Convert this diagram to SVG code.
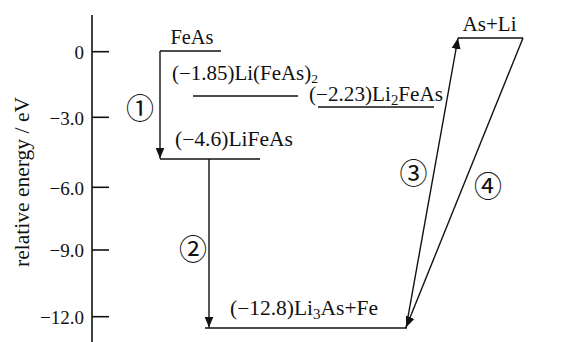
<svg xmlns="http://www.w3.org/2000/svg" width="569" height="342" viewBox="0 0 569 342">
<style>
.t{font-family:"Liberation Serif","Times New Roman",serif;font-size:20px;fill:#111}
.tk{font-family:"Liberation Serif","Times New Roman",serif;font-size:19px;fill:#111;text-anchor:end}
.c{font-family:"Noto Sans CJK SC","Noto Sans CJK JP",sans-serif;font-size:28px;fill:#111;text-anchor:middle;dominant-baseline:central}
.ln{stroke:#111;stroke-width:1.6;fill:none}
.ar{stroke:#111;stroke-width:1.4;fill:none;marker-end:url(#ah)}
</style>
<defs>
<marker id="ah" markerUnits="userSpaceOnUse" markerWidth="12" markerHeight="10" viewBox="0 0 12 10" refX="11" refY="5" orient="auto">
<path d="M0,0.5 L11,5 L0,9.5 z" fill="#111"/>
</marker>
</defs>
<g id="axis">
<line class="ln" x1="92" y1="15" x2="92" y2="342"/>
<line class="ln" x1="92" y1="51.7" x2="109" y2="51.7"/>
<line class="ln" x1="92" y1="117.3" x2="109" y2="117.3"/>
<line class="ln" x1="92" y1="187.3" x2="109" y2="187.3"/>
<line class="ln" x1="92" y1="250" x2="109" y2="250"/>
<line class="ln" x1="92" y1="316.7" x2="109" y2="316.7"/>
<text class="tk" x="84" y="59">0</text>
<text class="tk" x="84" y="124.5">−3.0</text>
<text class="tk" x="84" y="194.5">−6.0</text>
<text class="tk" x="84" y="257">−9.0</text>
<text class="tk" x="84" y="324">−12.0</text>
<text class="t" transform="translate(29,182) rotate(-90)" text-anchor="middle" textLength="170" lengthAdjust="spacingAndGlyphs">relative energy / eV</text>
</g>
<g id="FeAs">
<line class="ln" x1="160" y1="51" x2="221" y2="51"/>
<text class="t" x="170.5" y="44" textLength="43" lengthAdjust="spacingAndGlyphs">FeAs</text>
</g>
<g id="LiFeAs2">
<line class="ln" x1="193" y1="96" x2="298" y2="96"/>
<text class="t" x="172" y="80" textLength="146" lengthAdjust="spacingAndGlyphs">(−1.85)Li(FeAs)<tspan font-size="13" dy="3">2</tspan></text>
</g>
<g id="Li2FeAs">
<line class="ln" x1="318" y1="107" x2="434" y2="107"/>
<text class="t" x="309" y="101" textLength="134" lengthAdjust="spacingAndGlyphs">(−2.23)Li<tspan font-size="14" dy="4">2</tspan><tspan dy="-4">FeAs</tspan></text>
</g>
<g id="LiFeAs">
<line class="ln" x1="160" y1="159" x2="260" y2="159"/>
<text class="t" x="175" y="146" textLength="118" lengthAdjust="spacingAndGlyphs">(−4.6)LiFeAs</text>
</g>
<g id="Li3AsFe">
<line class="ln" x1="205" y1="328" x2="407" y2="328"/>
<text class="t" x="230" y="315" textLength="148" lengthAdjust="spacingAndGlyphs">(−12.8)Li<tspan font-size="14" dy="4">3</tspan><tspan dy="-4">As+Fe</tspan></text>
</g>
<g id="AsLi">
<line class="ln" x1="458" y1="38" x2="523" y2="38"/>
<text class="t" x="462.5" y="31" textLength="54" lengthAdjust="spacingAndGlyphs">As+Li</text>
</g>
<g id="connectors">
<line class="ar" x1="160" y1="51" x2="160" y2="158.5"/>
<line class="ar" x1="209" y1="159" x2="209" y2="327.5"/>
<line class="ar" x1="406" y1="328" x2="458" y2="38"/>
<line class="ar" x1="523" y1="38" x2="406" y2="327.5"/>
<text class="c" x="140" y="107">①</text>
<text class="c" x="193" y="248">②</text>
<text class="c" x="413.5" y="171.5">③</text>
<text class="c" x="488" y="185">④</text>
</g>
</svg>
